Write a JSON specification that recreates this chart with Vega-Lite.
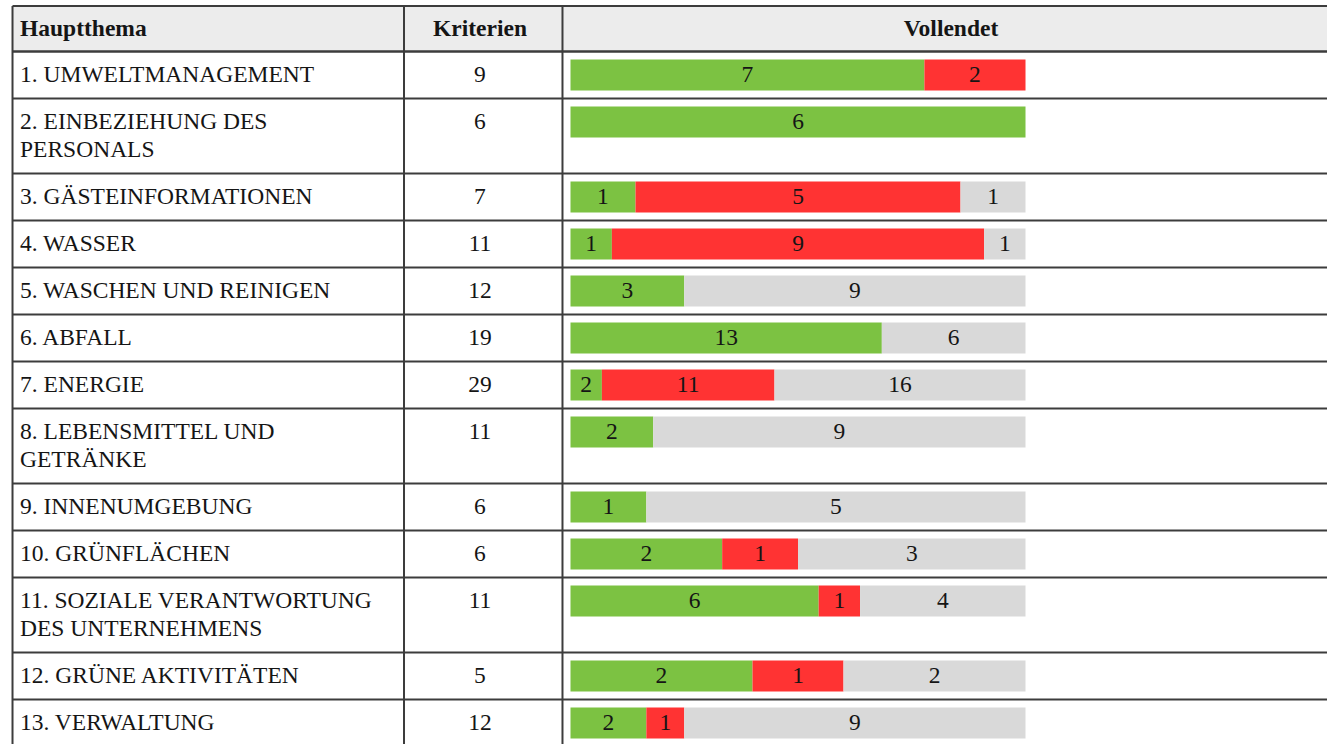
{
  "$schema": "https://vega.github.io/schema/vega-lite/v6.json",
  "width": 1327,
  "height": 744,
  "padding": 0,
  "autosize": {"type": "none"},
  "background": "white",
  "config": {
    "view": {"stroke": null},
    "text": {"font": "Liberation Serif", "fontSize": 23.5, "color": "#151515", "baseline": "middle"},
    "rule": {"color": "#3c3c3c", "strokeWidth": 2}
  },
  "layer": [
    {
      "data": {"values": [{}]},
      "mark": {"type": "rect", "color": "#ececec"},
      "encoding": {
        "x": {"datum": -1.2263, "type": "quantitative", "scale": {"domain": [-1.2538, 1.6626], "nice": false, "zero": false}, "axis": null},
        "x2": {"datum": 1.7},
        "y": {"datum": 6, "type": "quantitative", "scale": {"domain": [0, 744], "reverse": true, "nice": false, "zero": false}, "axis": null},
        "y2": {"datum": 51.5}
      }
    },
    {
      "data": {"values": [{}]},
      "mark": {"type": "text", "text": "Hauptthema", "align": "left", "fontWeight": "bold"},
      "encoding": {
        "x": {"datum": -1.2098, "type": "quantitative", "axis": null},
        "y": {"datum": 29, "type": "quantitative", "axis": null}
      }
    },
    {
      "data": {"values": [{}]},
      "mark": {"type": "text", "text": "Kriterien", "align": "center", "fontWeight": "bold"},
      "encoding": {
        "x": {"datum": -0.1989, "type": "quantitative", "axis": null},
        "y": {"datum": 29, "type": "quantitative", "axis": null}
      }
    },
    {
      "data": {"values": [{}]},
      "mark": {"type": "text", "text": "Vollendet", "align": "center", "fontWeight": "bold"},
      "encoding": {
        "x": {"datum": 0.8363, "type": "quantitative", "axis": null},
        "y": {"datum": 29, "type": "quantitative", "axis": null}
      }
    },
    {
      "data": {"values": [{}]},
      "mark": {"type": "rule"},
      "encoding": {
        "x": {"datum": -1.2263, "type": "quantitative", "axis": null},
        "x2": {"datum": 1.7},
        "y": {"datum": 6, "type": "quantitative", "axis": null}
      }
    },
    {
      "data": {"values": [{}]},
      "mark": {"type": "rule", "strokeWidth": 2.5},
      "encoding": {
        "x": {"datum": -1.2263, "type": "quantitative", "axis": null},
        "x2": {"datum": 1.7},
        "y": {"datum": 51.5, "type": "quantitative", "axis": null}
      }
    },
    {
      "data": {"values": [{"spalte": -1.2263}, {"spalte": -0.3659}, {"spalte": -0.0176}]},
      "mark": {"type": "rule"},
      "encoding": {
        "x": {"field": "spalte", "type": "quantitative", "axis": null},
        "y": {"datum": 6, "type": "quantitative", "axis": null},
        "y2": {"datum": 744}
      }
    },
    {
      "data": {
        "values": [
          {"nr": 1, "thema": "1. UMWELTMANAGEMENT", "kriterien": 9, "erfuellt": 7, "nicht": 2, "offen": 0},
          {"nr": 2, "thema": "2. EINBEZIEHUNG DES\nPERSONALS", "kriterien": 6, "erfuellt": 6, "nicht": 0, "offen": 0},
          {"nr": 3, "thema": "3. GÄSTEINFORMATIONEN", "kriterien": 7, "erfuellt": 1, "nicht": 5, "offen": 1},
          {"nr": 4, "thema": "4. WASSER", "kriterien": 11, "erfuellt": 1, "nicht": 9, "offen": 1},
          {"nr": 5, "thema": "5. WASCHEN UND REINIGEN", "kriterien": 12, "erfuellt": 3, "nicht": 0, "offen": 9},
          {"nr": 6, "thema": "6. ABFALL", "kriterien": 19, "erfuellt": 13, "nicht": 0, "offen": 6},
          {"nr": 7, "thema": "7. ENERGIE", "kriterien": 29, "erfuellt": 2, "nicht": 11, "offen": 16},
          {"nr": 8, "thema": "8. LEBENSMITTEL UND\nGETRÄNKE", "kriterien": 11, "erfuellt": 2, "nicht": 0, "offen": 9},
          {"nr": 9, "thema": "9. INNENUMGEBUNG", "kriterien": 6, "erfuellt": 1, "nicht": 0, "offen": 5},
          {"nr": 10, "thema": "10. GRÜNFLÄCHEN", "kriterien": 6, "erfuellt": 2, "nicht": 1, "offen": 3},
          {"nr": 11, "thema": "11. SOZIALE VERANTWORTUNG\nDES UNTERNEHMENS", "kriterien": 11, "erfuellt": 6, "nicht": 1, "offen": 4},
          {"nr": 12, "thema": "12. GRÜNE AKTIVITÄTEN", "kriterien": 5, "erfuellt": 2, "nicht": 1, "offen": 2},
          {"nr": 13, "thema": "13. VERWALTUNG", "kriterien": 12, "erfuellt": 2, "nicht": 1, "offen": 9}
        ]
      },
      "transform": [
        {"calculate": "length(split(datum.thema, '\\n'))", "as": "zeilen"},
        {"calculate": "19 + 28 * datum.zeilen", "as": "hoehe"},
        {"window": [{"op": "sum", "field": "hoehe", "as": "summe"}], "sort": [{"field": "nr"}], "frame": [null, 0]},
        {"calculate": "51.5 + datum.summe", "as": "unten"},
        {"calculate": "datum.unten - datum.hoehe", "as": "oben"},
        {"calculate": "datum.oben + 23", "as": "mitte"},
        {"calculate": "datum.oben + 8", "as": "b_oben"},
        {"calculate": "datum.oben + 39", "as": "b_unten"}
      ],
      "layer": [
        {
          "mark": {"type": "rule"},
          "encoding": {
            "x": {"datum": -1.2263, "type": "quantitative", "axis": null},
            "x2": {"datum": 1.7},
            "y": {"field": "unten", "type": "quantitative", "axis": null}
          }
        },
        {
          "mark": {"type": "text", "align": "left", "lineBreak": "\n", "lineHeight": 28.5},
          "encoding": {
            "x": {"datum": -1.2098, "type": "quantitative", "axis": null},
            "y": {"field": "mitte", "type": "quantitative", "axis": null},
            "text": {"field": "thema", "type": "nominal"}
          }
        },
        {
          "mark": {"type": "text", "align": "center"},
          "encoding": {
            "x": {"datum": -0.1989, "type": "quantitative", "axis": null},
            "y": {"field": "mitte", "type": "quantitative", "axis": null},
            "text": {"field": "kriterien", "type": "quantitative"}
          }
        },
        {
          "transform": [
            {"fold": ["erfuellt", "nicht", "offen"], "as": ["status", "anzahl"]},
            {"filter": "datum.anzahl > 0"},
            {"stack": "anzahl", "groupby": ["nr"], "sort": [{"field": "status"}], "offset": "normalize", "as": ["s0", "s1"]},
            {"calculate": "(datum.s0 + datum.s1) / 2", "as": "smitte"}
          ],
          "layer": [
            {
              "mark": {"type": "rect"},
              "encoding": {
                "x": {"field": "s0", "type": "quantitative", "axis": null},
                "x2": {"field": "s1"},
                "y": {"field": "b_oben", "type": "quantitative", "axis": null},
                "y2": {"field": "b_unten"},
                "color": {
                  "field": "status",
                  "type": "nominal",
                  "scale": {"domain": ["erfuellt", "nicht", "offen"], "range": ["#7cc242", "#ff3333", "#d9d9d9"]},
                  "legend": null
                }
              }
            },
            {
              "mark": {"type": "text", "align": "center"},
              "encoding": {
                "x": {"field": "smitte", "type": "quantitative", "axis": null},
                "y": {"field": "mitte", "type": "quantitative", "axis": null},
                "text": {"field": "anzahl", "type": "quantitative"}
              }
            }
          ]
        }
      ]
    }
  ]
}
